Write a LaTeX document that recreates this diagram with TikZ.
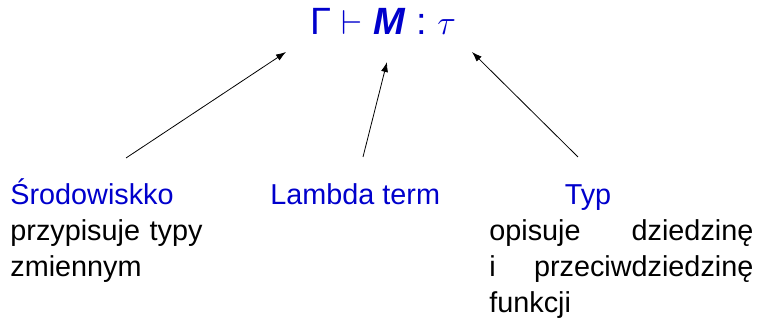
\documentclass[tikz,border=0pt]{standalone}
\usepackage{amsmath}
\usepackage{fontspec}
\setmainfont{Liberation Sans}
\usetikzlibrary{arrows.meta,positioning}
\definecolor{termblue}{HTML}{0000CC}

\begin{document}
\begin{tikzpicture}[
  formula/.style={inner sep=0pt, text=termblue, font=\fontsize{19}{23}\selectfont},
  head/.style={inner sep=0pt, text=termblue, font=\fontsize{14.4}{18}\selectfont},
  desc/.style={inner sep=0pt, font=\fontsize{14.4}{18}\selectfont},
  arrow/.style={-{Latex[length=5pt, width=3.5pt]}, thin}
]
  \useasboundingbox (0pt,0pt) rectangle (378.5pt,160pt);

  \node[formula, anchor=base] (judg) at (191.5pt,142.5pt)
    {Γ $\vdash$ \textbf{\textit{M}} : $\tau$};

  % the three parts of the judgement
  \node[head, anchor=base west] (env) at (5pt,57.5pt) {Środowiskko};
  \node[desc, anchor=base west, text width=110pt, align=left] (envdesc) at (5pt,39.5pt)
    {przypisuje typy\\zmiennym};

  \node[head, anchor=base west] (term) at (135pt,57.5pt) {Lambda term};

  \node[head, anchor=base] (type) at (294pt,57.5pt) {Typ};
  \node[desc, anchor=base west, text width=132pt, align=justify] (typedesc) at (244.5pt,39.5pt)
    {opisuje dziedzinę i przeciwdziedzinę funkcji};

  \coordinate (envtail) at (63pt,81pt);
  \coordinate (termtail) at (181.5pt,81.5pt);
  \coordinate (typetail) at (289pt,81.5pt);
  \coordinate (envtip) at (143pt,134pt);
  \coordinate (termtip) at (193.5pt,129pt);
  \coordinate (typetip) at (236pt,134pt);

  \draw[arrow] (envtail) -- (envtip);
  \draw[arrow] (termtail) -- (termtip);
  \draw[arrow] (typetail) -- (typetip);

\end{tikzpicture}
\end{document}
